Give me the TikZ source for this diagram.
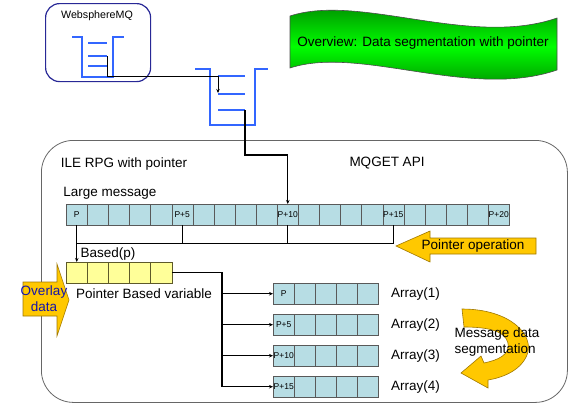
\documentclass[tikz,border=0pt]{standalone}
\usepackage{fontspec}
\setmainfont{Liberation Sans}
\usepackage{tikz}
\usetikzlibrary{arrows.meta, positioning}

\definecolor{mqblue}{RGB}{40,40,150}
\definecolor{qblue}{RGB}{51,102,255}
\definecolor{cellblue}{RGB}{183,221,228}
\definecolor{cellyellow}{RGB}{255,255,153}
\definecolor{goldfill}{RGB}{255,200,0}
\definecolor{goldline}{RGB}{160,120,0}
\definecolor{overlayblue}{RGB}{20,20,170}

\begin{document}
\begin{tikzpicture}[x=1pt, y=-1pt,
      txt/.style={font=\fontsize{13.5}{16}\selectfont},
      celltxt/.style={font=\fontsize{8.5}{9}\selectfont, inner sep=0pt},
      cell/.style={draw=black!65, fill=cellblue, minimum width=21.1pt, minimum height=21pt,
                  inner sep=0pt, anchor=north west},
      ycell/.style={draw=black!45!olive, fill=cellyellow, minimum width=21.1pt, minimum height=21pt,
                  inner sep=0pt, anchor=north west},
      queue/.style={draw=qblue, line width=1.2pt},
      line/.style={line width=1.4pt},
      arrow/.style={-{Stealth[length=4pt, width=3.5pt]}, line width=1.4pt},
      gold/.style={draw=goldline, fill=goldfill, line width=0.6pt}
    ]
    \useasboundingbox (0,0) rectangle (580,408);

    \node[draw=black!60, line width=0.8pt, rounded corners=32pt, minimum width=526pt,
          minimum height=262pt, anchor=north west] (rpg) at (41,140) {};
    \node[draw=mqblue, line width=1.2pt, rounded corners=14pt, minimum width=105pt,
          minimum height=78pt, anchor=north west] (mq) at (45,3) {};
    \node[font=\fontsize{10.7}{12}\selectfont] (mqlabel) at (97,16) {WebsphereMQ};

    \draw[draw=black!70, line width=0.6pt, top color=green!45!black, bottom color=green!45!black,
          middle color=green]
      (290,16) .. controls (360,-7) and (470,48) .. (557,18) -- (557,70)
      .. controls (470,100) and (360,45) .. (290,68) -- cycle;
    \node[txt] (banner) at (423,43) {Overview: Data segmentation with pointer};

    \draw[queue] (72,37) -- (82,37) -- (82,77) -- (113,77) -- (113,37) -- (124,37);
    \foreach \y in {43,56,66}
      \draw[queue] (88,\y) -- (107,\y);
    \draw[queue] (195,69) -- (210,69) -- (210,125) -- (255,125) -- (255,69) -- (268,69);
    \foreach \y in {76,94,110}
      \draw[queue] (218,\y) -- (245,\y);
    \coordinate (q1out) at (107,56);
    \coordinate (q2in) at (218,93);
    \coordinate (q2out) at (245,110);

    \node[txt] (ile) at (124,164) {ILE RPG with pointer};
    \node[txt] (mqget) at (387,163) {MQGET API};
    \node[txt] (large) at (110,193) {Large message};

    \foreach \i in {0,...,20}
      \node[cell] (m\i) at ({66+21.1*\i},204) {};
    \foreach \i/\t in {0/P,5/P+5,10/P+10,15/P+15,20/P+20}
      \node[celltxt] (ml\i) at (m\i) {\t};

    \node[txt] (based) at (108,254) {Based(p)};
    \foreach \i in {0,...,4}
      \node[ycell] (b\i) at ({66+21.1*\i},262) {};
    \node[txt] (pbv) at (144,294) {Pointer Based variable};

    \foreach \r in {1,...,4}
      \foreach \c in {0,...,4}
        \node[cell] (a\r-\c) at ({273+21*\c},{283+31*(\r-1)}) {};
    \foreach \r/\t in {1/P,2/P+5,3/P+10,4/P+15}
      \node[celltxt] (al\r) at (a\r-0) {\t};
    \foreach \r in {1,...,4}
      \node[txt, right=9pt of a\r-4] (arr\r) {Array(\r)};

    \draw[arrow, line width=1pt] (q1out) -- ++(0,20) -| (q2in);
    \draw[arrow] (q2out) -- ++(0,45) -| (m10.north);
    \draw[line] (m0.south) -- ++(0,18) -| (m15.south);
    \draw[line] (m5.south) -- ++(0,18);
    \draw[line] (m10.south) -- ++(0,18);
    \draw[arrow] (m0.south) -- (b0.north);
    \draw[arrow] (b4.east) -- ++(50,0) coordinate (split) |- (a4-0.west);
    \foreach \r in {1,2,3}
      \draw[arrow] (split |- a\r-0.west) -- (a\r-0.west);

    \draw[gold] (396,246) -- (430,231) -- (430,238) -- (536,238) -- (536,254)
      -- (430,254) -- (430,262) -- cycle;
    \node[txt] (ptrop) at (473,246) {Pointer operation};

    \draw[gold] (23,282) -- (57,282) -- (57,264) -- (69,300) -- (57,336) -- (57,316)
      -- (23,316) -- cycle;
    \node[txt, text=overlayblue, align=center] (overlay) at (44,299) {Overlay\\data};

    \draw[gold] (462,309) .. controls (510,309) and (535,335) .. (527,355)
      .. controls (520,372) and (500,378) .. (488,380) -- (488,388) -- (461,373)
      -- (481,356) -- (484,363) .. controls (498,360) and (510,355) .. (508,343)
      .. controls (505,330) and (485,327) .. (464,327) -- cycle;
    \node[txt, align=left, anchor=west] (seg) at (451,342) {Message data\\segmentation};
  \end{tikzpicture}
\end{document}
